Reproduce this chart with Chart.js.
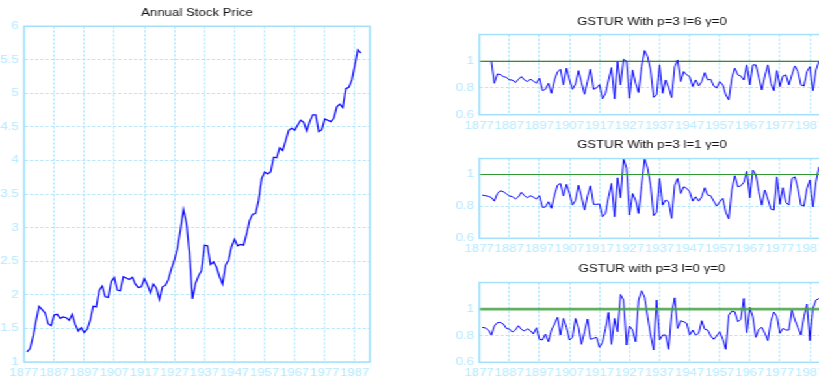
<!DOCTYPE html>
<html>
<head>
<meta charset="utf-8">
<script src="https://cdn.jsdelivr.net/npm/chart.js@4.4.1/dist/chart.umd.min.js"></script>
<style>
  html, body { margin: 0; padding: 0; background: #ffffff; overflow: hidden; }
  body { width: 819px; height: 377px; position: relative; }
  /* figure is laid out at 630px and widened to the full 819px window */
  #fig { position: absolute; left: 0; top: 0; width: 630px; height: 377px;
         transform: scaleX(1.3); transform-origin: 0 0; overflow: hidden; }
  #fig canvas { position: absolute; }
</style>
</head>
<body>
<div id="fig">
  <canvas id="price" width="303" height="377" style="left:0;top:0"></canvas>
  <canvas id="g6" width="323" height="134" style="left:340px;top:0"></canvas>
  <canvas id="g1" width="323" height="130" style="left:340px;top:126px"></canvas>
  <canvas id="g0" width="323" height="127" style="left:340px;top:250px"></canvas>
</div>
<script>
// Annual series, one value per year starting at FIRST_YEAR
const FIRST_YEAR = 1877;
const tickYears = [1877, 1887, 1897, 1907, 1917, 1927, 1937, 1947, 1957, 1967, 1977, 1987];

// log annual stock price, 1877-1988
const stockPrice = [
  1.15, 1.20, 1.38, 1.62, 1.83, 1.78, 1.73, 1.57, 1.54, 1.70,
  1.71, 1.65, 1.67, 1.66, 1.62, 1.71, 1.56, 1.46, 1.51, 1.44,
  1.49, 1.62, 1.83, 1.82, 2.07, 2.13, 1.97, 1.96, 2.20, 2.26,
  2.07, 2.06, 2.27, 2.25, 2.23, 2.26, 2.16, 2.11, 2.12, 2.24,
  2.15, 2.03, 2.16, 2.10, 1.93, 2.12, 2.14, 2.23, 2.39, 2.52,
  2.69, 2.97, 3.27, 3.07, 2.62, 1.94, 2.17, 2.28, 2.36, 2.74,
  2.73, 2.45, 2.49, 2.41, 2.27, 2.16, 2.44, 2.52, 2.72, 2.83,
  2.73, 2.75, 2.74, 2.91, 3.11, 3.20, 3.21, 3.41, 3.73, 3.83,
  3.80, 3.83, 4.05, 4.04, 4.19, 4.15, 4.30, 4.45, 4.48, 4.45,
  4.53, 4.60, 4.57, 4.44, 4.58, 4.68, 4.68, 4.43, 4.46, 4.62,
  4.60, 4.58, 4.63, 4.80, 4.84, 4.79, 5.07, 5.09, 5.20, 5.42,
  5.65, 5.60
];

// GSTUR statistics, 1877-1989 (null where not computed)
const gsturL6 = [
  null, null, null,
  1.00, 0.835, 0.905, 0.90, 0.885, 0.88, 0.86, 0.86, 0.84, 0.865,
  0.885, 0.86, 0.848, 0.865, 0.853, 0.835, 0.873, 0.78, 0.79, 0.835,
  0.76, 0.86, 0.92, 0.94, 0.823, 0.948, 0.86, 0.79, 0.83, 0.93,
  0.84, 0.753, 0.85, 0.94, 0.79, 0.80, 0.825, 0.718, 0.76, 0.86,
  0.953, 0.718, 0.998, 0.823, 1.015, 1.00, 0.723, 0.935, 0.835, 0.766,
  0.96, 1.08, 1.035, 0.935, 0.73, 0.748, 0.973, 0.76, 0.86, 0.805,
  0.728, 0.96, 1.01, 0.848, 0.923, 0.898, 0.885, 0.81, 0.86, 0.815,
  0.848, 0.915, 0.86, 0.865, 0.815, 0.80, 0.848, 0.823, 0.748, 0.71,
  0.873, 0.948, 0.898, 0.89, 0.86, 0.973, 0.823, 0.973, 0.973, 0.88,
  0.785, 0.89, 0.973, 0.835, 0.78, 0.93, 0.81, 0.89, 0.898, 0.823,
  0.898, 0.965, 0.923, 0.823, 0.815, 0.923, 0.96, 0.78, 0.935, 1.00
];

const gsturL1 = [
  0.871, 0.867, 0.863, 0.856, 0.833, 0.88, 0.898, 0.892, 0.879, 0.865,
  0.862, 0.846, 0.86, 0.888, 0.867, 0.854, 0.867, 0.858, 0.846, 0.867,
  0.794, 0.796, 0.829, 0.788, 0.871, 0.933, 0.944, 0.865, 0.938, 0.881,
  0.808, 0.838, 0.933, 0.86, 0.777, 0.867, 0.929, 0.813, 0.813, 0.815,
  0.735, 0.756, 0.86, 0.944, 0.735, 0.979, 0.854, 1.10, 1.04, 0.746,
  0.881, 0.84, 0.756, 0.933, 1.10, 1.04, 0.933, 0.742, 0.763, 0.975,
  0.808, 0.84, 0.829, 0.725, 0.933, 0.975, 0.881, 0.923, 0.913, 0.892,
  0.833, 0.86, 0.833, 0.86, 0.917, 0.871, 0.867, 0.833, 0.802, 0.829,
  0.85, 0.763, 0.721, 0.902, 0.992, 0.923, 0.929, 0.95, 1.02, 0.854,
  1.027, 1.00, 0.892, 0.808, 0.902, 0.846, 0.783, 0.777, 0.985, 0.813,
  0.917, 0.825, 0.808, 0.975, 0.985, 0.913, 0.808, 0.802, 0.913, 0.965,
  0.798, 0.954, 1.048
];

const gsturL0 = [
  0.863, 0.858, 0.843, 0.805, 0.873, 0.898, 0.90, 0.888, 0.855, 0.85,
  0.828, 0.843, 0.875, 0.848, 0.835, 0.853, 0.838, 0.813, 0.86, 0.773,
  0.768, 0.813, 0.755, 0.843, 0.888, 0.938, 0.805, 0.93, 0.863, 0.768,
  0.788, 0.93, 0.863, 0.735, 0.83, 0.925, 0.773, 0.78, 0.788, 0.713,
  0.75, 0.855, 0.975, 0.735, 0.93, 0.83, 1.11, 1.068, 0.73, 0.873,
  0.843, 0.755, 1.068, 1.138, 1.09, 0.943, 0.805, 0.693, 1.068, 0.768,
  0.805, 0.805, 0.698, 0.968, 1.085, 0.855, 0.913, 0.905, 0.893, 0.805,
  0.843, 0.805, 0.818, 0.913, 0.848, 0.843, 0.798, 0.773, 0.798, 0.83,
  0.773, 0.698, 0.955, 0.985, 0.98, 0.905, 0.923, 1.08, 0.823, 1.013,
  0.943, 0.788, 0.848, 0.863, 0.818, 0.763, 0.905, 0.978, 0.943, 0.818,
  0.855, 0.843, 0.843, 0.993, 0.918, 0.863, 0.805, 0.943, 1.038, 0.763,
  1.005, 1.068, 1.08
];

const gsturTicks = [0.6, 0.8, 1];
const refLevel = 1;

// observation k (1-based) sits at x = k; tick at x = k is labelled FIRST_YEAR + k
const toPoints = (vals) => vals.map((v, i) => ({ x: i + 1, y: v }));

const FONT = "'Liberation Sans', Arial, Helvetica, sans-serif";
const TICK_COLOR = '#b3e9ff';
const GRID_COLOR = '#b4e6fa';
const FRAME_COLOR = '#a3e1fb';

// solid frame around the plotting area
const framePlugin = {
  id: 'frame',
  afterDraw(chart) {
    const { ctx, chartArea: a } = chart;
    ctx.save();
    ctx.strokeStyle = FRAME_COLOR;
    ctx.lineWidth = 1.5;
    ctx.strokeRect(a.left, a.top, a.right - a.left, a.bottom - a.top);
    ctx.restore();
  }
};

// horizontal reference level across the plot
const refLinePlugin = {
  id: 'refLine',
  afterDatasetsDraw(chart, args, opts) {
    const { ctx, chartArea: a, scales } = chart;
    const y = scales.y.getPixelForValue(opts.level);
    ctx.save();
    ctx.beginPath();
    ctx.rect(a.left, a.top, a.right - a.left, a.bottom - a.top);
    ctx.clip();
    ctx.strokeStyle = opts.color;
    ctx.lineWidth = opts.width;
    ctx.beginPath();
    ctx.moveTo(a.left, y);
    ctx.lineTo(a.right, y);
    ctx.stroke();
    ctx.restore();
  }
};

const trimNumber = (v) => String(Math.round(v * 100) / 100);

function xScale(height) {
  return {
    type: 'linear',
    min: 0,
    max: 115,
    afterBuildTicks(s) { s.ticks = tickYears.map(t => ({ value: t - FIRST_YEAR })); },
    afterFit(s) { s.height = height; },
    ticks: {
      autoSkip: false, maxRotation: 0, padding: 5,
      color: TICK_COLOR, font: { family: FONT, size: 10.1 },
      callback: (v, i) => String(tickYears[i])
    },
    grid: { color: GRID_COLOR, lineWidth: 1, drawTicks: false },
    border: { display: false, dash: [2.4, 1.6] }
  };
}

function yScale(min, max, width, tickValues, step) {
  const s = {
    min, max,
    afterFit(sc) { sc.width = width; },
    ticks: { padding: 4, color: TICK_COLOR, font: { family: FONT, size: 10.3 }, callback: trimNumber },
    grid: { color: GRID_COLOR, lineWidth: 1, drawTicks: false },
    border: { display: false, dash: [2.4, 1.6] }
  };
  if (tickValues) s.afterBuildTicks = (sc) => { sc.ticks = tickValues.map(v => ({ value: v })); };
  if (step) s.ticks.stepSize = step;
  return s;
}

// blank right-hand axis so the title centres over the plotting area
function spacerScale(width) {
  return {
    type: 'linear', position: 'right',
    afterFit(sc) { sc.width = width; },
    ticks: { display: false },
    grid: { display: false, drawTicks: false },
    border: { display: false }
  };
}

function titleOpts(text, top, bottom) {
  return {
    display: true, text, color: '#111111',
    font: { family: FONT, size: 10.2, weight: 'normal', lineHeight: 1.2 },
    padding: { top, bottom }
  };
}

Chart.defaults.animation = false;

new Chart(document.getElementById('price'), {
  type: 'line',
  data: {
    datasets: [{
      data: toPoints(stockPrice),
      borderColor: '#0606ff', borderWidth: 1.2,
      pointRadius: 0, tension: 0, fill: false
    }]
  },
  options: {
    responsive: false,
    devicePixelRatio: 1,
    layout: { padding: 0 },
    plugins: {
      legend: { display: false },
      tooltip: { enabled: false },
      title: titleOpts('Annual Stock Price', 7, 7)
    },
    scales: {
      x: xScale(15),
      y: yScale(1, 6, 18.5, null, 0.5),
      yPad: spacerScale(18.5)
    }
  },
  plugins: [framePlugin]
});

function gsturChart(id, title, series, yMax, ref, tTop, tBottom, xH) {
  new Chart(document.getElementById(id), {
    type: 'line',
    data: {
      datasets: [{
        data: toPoints(series),
        borderColor: '#0606ff', borderWidth: 1,
        pointRadius: 0, tension: 0, fill: false, spanGaps: false
      }]
    },
    options: {
      responsive: false,
      devicePixelRatio: 1,
      layout: { padding: 0 },
      plugins: {
        legend: { display: false },
        tooltip: { enabled: false },
        title: titleOpts(title, tTop, tBottom),
        refLine: Object.assign({ level: refLevel }, ref)
      },
      scales: {
        x: xScale(xH),
        y: yScale(0.6, yMax, 28.7, gsturTicks, null),
        yPad: spacerScale(28.4)
      }
    },
    plugins: [refLinePlugin, framePlugin]
  });
}

gsturChart('g6', 'GSTUR With p=3 l=6 \u03b3=0', gsturL6, 1.2,
  { color: '#0b640b', width: 1.2 }, 15.7, 6.6, 19.3);
gsturChart('g1', 'GSTUR With p=3 l=1 \u03b3=0', gsturL1, 1.1,
  { color: '#2f9a2f', width: 1.1 }, 13, 7.3, 17.7);
gsturChart('g0', 'GSTUR with p=3 l=0 \u03b3=0', gsturL0, 1.2,
  { color: 'rgba(70,165,70,0.85)', width: 2.6 }, 13.3, 7, 14.7);
</script>
</body>
</html>
